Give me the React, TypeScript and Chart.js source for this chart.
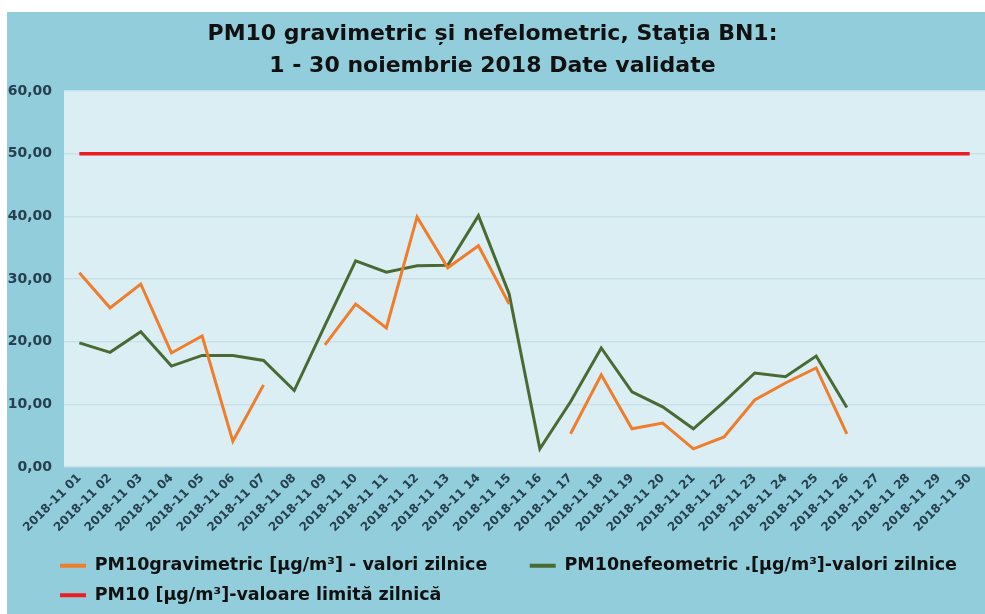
import React, { useEffect, useRef } from "react";
import { Chart, registerables } from "chart.js";

Chart.register(...registerables);

const categories = [
  "2018-11 01", "2018-11 02", "2018-11 03", "2018-11 04", "2018-11 05",
  "2018-11 06", "2018-11 07", "2018-11 08", "2018-11 09", "2018-11 10",
  "2018-11 11", "2018-11 12", "2018-11 13", "2018-11 14", "2018-11 15",
  "2018-11 16", "2018-11 17", "2018-11 18", "2018-11 19", "2018-11 20",
  "2018-11 21", "2018-11 22", "2018-11 23", "2018-11 24", "2018-11 25",
  "2018-11 26", "2018-11 27", "2018-11 28", "2018-11 29", "2018-11 30",
];

const gravimetric = [
  31.0, 25.4, 29.2, 18.2, 20.9, 4.1, 13.1, null, 19.5, 26.0,
  22.2, 39.9, 31.8, 35.3, 26.0, null, 5.3, 14.7, 6.1, 7.0,
  2.9, 4.8, 10.7, 13.4, 15.8, 5.3, null, null, null, null,
];

const nefelometric = [
  19.8, 18.3, 21.6, 16.1, 17.8, 17.8, 17.0, 12.2, 22.6, 32.9,
  31.1, 32.1, 32.2, 40.1, 27.6, 2.9, 10.4, 19.0, 12.0, 9.6,
  6.1, 10.4, 15.0, 14.4, 17.7, 9.5, null, null, null, null,
];

const limitValue = [
  50, 50, 50, 50, 50, 50, 50, 50, 50, 50,
  50, 50, 50, 50, 50, 50, 50, 50, 50, 50,
  50, 50, 50, 50, 50, 50, 50, 50, 50, 50,
];

const seriesNames = [
  "PM10gravimetric [µg/m³] - valori zilnice",
  "PM10nefeometric .[µg/m³]-valori zilnice",
  "PM10 [µg/m³]-valoare limită zilnică",
];

const titleLines = [
  "PM10 gravimetric și nefelometric, Staţia BN1:",
  "1 - 30 noiembrie 2018 Date validate",
];

const yMin = 0;
const yMax = 60;
const yStep = 10;

const COLORS = {
  outer: "#92cddc",
  plot: "#daeef3",
  grid: "#c8e1e8",
  orange: "#ef7d2c",
  green: "#4a6a34",
  red: "#ec1c24",
  tick: "#27404f",
};

const backgroundPlugin = {
  id: "bgPanels",
  beforeDraw(chart: any) {
    const { ctx, chartArea, width, height } = chart;
    ctx.save();
    ctx.fillStyle = "#ffffff";
    ctx.fillRect(0, 0, width, height);
    ctx.fillStyle = COLORS.outer;
    ctx.fillRect(7, 12, width - 7, height - 12);
    ctx.fillStyle = COLORS.plot;
    ctx.fillRect(
      chartArea.left,
      chartArea.top,
      chartArea.right - chartArea.left,
      chartArea.bottom - chartArea.top
    );
    ctx.restore();
  },
};

const legendShiftPlugin = {
  id: "legendShift",
  afterLayout(chart: any) {
    if (chart.legend) {
      chart.legend.left = 48;
    }
  },
};

export default function App() {
  const canvasRef = useRef<HTMLCanvasElement | null>(null);

  useEffect(() => {
    if (!canvasRef.current) return;
    const chart = new Chart(canvasRef.current, {
      type: "line",
      data: {
        labels: categories,
        datasets: [
          {
            label: seriesNames[0],
            data: gravimetric,
            borderColor: COLORS.orange,
            backgroundColor: COLORS.orange,
            borderWidth: 3,
            pointRadius: 0,
            spanGaps: false,
            tension: 0,
          },
          {
            label: seriesNames[1],
            data: nefelometric,
            borderColor: COLORS.green,
            backgroundColor: COLORS.green,
            borderWidth: 3,
            pointRadius: 0,
            spanGaps: false,
            tension: 0,
          },
          {
            label: seriesNames[2],
            data: limitValue,
            borderColor: COLORS.red,
            backgroundColor: COLORS.red,
            borderWidth: 3.5,
            pointRadius: 0,
            tension: 0,
          },
        ],
      },
      options: {
        animation: false,
        responsive: false,
        maintainAspectRatio: false,
        layout: { padding: { left: 0, right: 0, top: 0, bottom: 0 } },
        plugins: {
          tooltip: { enabled: false },
          title: {
            display: true,
            text: titleLines,
            color: "#111111",
            font: {
              family: "'DejaVu Sans', sans-serif",
              size: 22,
              weight: "bold",
              lineHeight: 32 / 22,
            },
            padding: { top: 18, bottom: 9 },
          },
          legend: {
            display: true,
            position: "bottom",
            align: "start",
            labels: {
              color: "#111111",
              font: {
                family: "'DejaVu Sans', sans-serif",
                size: 17.5,
                weight: "bold",
              },
              boxWidth: 26,
              boxHeight: 4,
              padding: 12,
              generateLabels: (ch: any) =>
                Chart.defaults.plugins.legend.labels
                  .generateLabels(ch)
                  .map((l: any, i: number) => ({
                    ...l,
                    lineWidth: 0,
                    text: i === 0 ? l.text + "     " : l.text,
                  })),
            },
          },
        },
        scales: {
          x: {
            offset: true,
            grid: { display: false, drawTicks: false },
            border: { display: false },
            afterFit(scale: any) {
              scale.height = 78;
            },
            ticks: {
              autoSkip: false,
              minRotation: 45,
              maxRotation: 45,
              padding: 4,
              color: COLORS.tick,
              font: {
                family: "'DejaVu Sans', sans-serif",
                size: 12,
                weight: "bold",
              },
            },
          },
          y: {
            min: yMin,
            max: yMax,
            grid: {
              color: COLORS.grid,
              lineWidth: 1.5,
              drawTicks: false,
            },
            border: { display: false },
            afterFit(scale: any) {
              scale.width = 64;
            },
            ticks: {
              stepSize: yStep,
              padding: 12,
              color: COLORS.tick,
              font: {
                family: "'DejaVu Sans', sans-serif",
                size: 14,
                weight: "bold",
              },
              callback: (v: any) => Number(v).toFixed(2).replace(".", ","),
            },
          },
        },
      },
      plugins: [backgroundPlugin, legendShiftPlugin],
    });
    return () => chart.destroy();
  }, []);

  return (
    <div style={{ position: "absolute", left: 0, top: 0, width: 985, height: 614 }}>
      <canvas ref={canvasRef} width={985} height={614} style={{ display: "block" }} />
    </div>
  );
}
